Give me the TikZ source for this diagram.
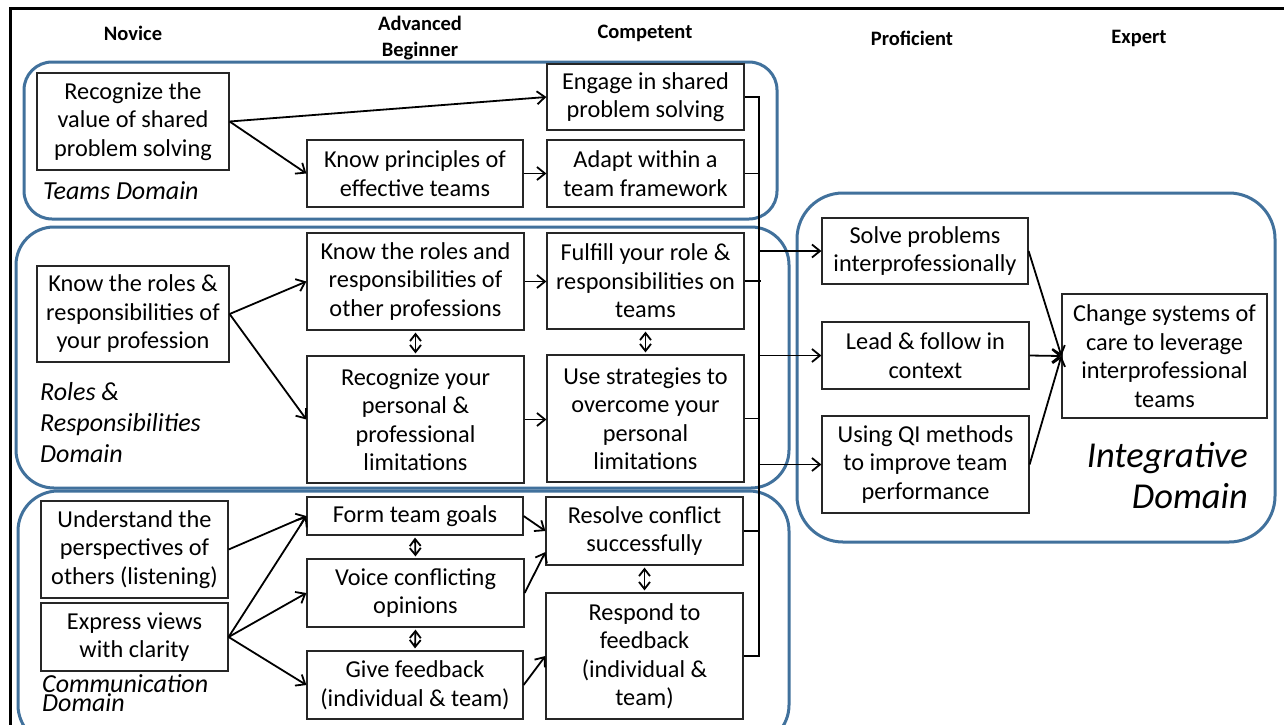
\documentclass[tikz,border=0pt]{standalone}
\usepackage{fontspec}
\setmainfont{Carlito}
\usetikzlibrary{arrows.meta,calc}
\definecolor{domblue}{RGB}{65,113,156}
\begin{document}
\begin{tikzpicture}[x=1pt,y=-1pt,
 box/.style={draw=black!85, line width=1.2pt, fill=white, align=center, inner sep=0pt, font=\fontsize{24.3}{28.5}\selectfont},
 dom/.style={draw=domblue, line width=3pt, rounded corners=#1},
 hdr/.style={font=\fontsize{20.5}{26}\selectfont\bfseries, align=center, inner sep=0pt},
 lbl/.style={font=\fontsize{26}{31}\selectfont\itshape, align=left, anchor=west, inner sep=0pt},
 arr/.style={draw=black, line width=1.8pt, -{Straight Barb[length=8pt,width=13pt]}},
 dbl/.style={draw=black, line width=1.8pt, {Straight Barb[length=7pt,width=11pt]}-{Straight Barb[length=7pt,width=11pt]}},
 bus/.style={draw=black, line width=1.8pt}
]
\useasboundingbox (0,0) rectangle (1284,724);
\clip (0,0) rectangle (1284,724);
\fill[white] (0,0) rectangle (1284,724);
% outer frame (top and left edges)
\draw[line width=3pt] (10.5,740) -- (10.5,8.5) -- (1300,8.5);

% headers
\node[hdr] (hN) at (133,33) {Novice};
\node[hdr] (hA) at (420,38) {Advanced\\Beginner};
\node[hdr] (hC) at (645,33) {Competent};
\node[hdr] (hP) at (912,38) {Proficient};
\node[hdr] (hE) at (1139,38) {Expert};

% domain frames
\draw[dom=28pt] (24,62) rectangle (777,219);
\draw[dom=38pt] (16,227) rectangle (789,488);
\draw[dom=40pt] (18,491) rectangle (789,745);
\draw[dom=46pt] (797,193) rectangle (1275,542);

% Teams domain
\node[box, minimum width=192pt, minimum height=97pt] (A1) at (133,121.5) {Recognize the\\value of shared\\problem solving};
\node[box, minimum width=216pt, minimum height=67pt] (A2) at (415,173.5) {Know principles of\\effective teams};
\node[box, minimum width=197pt, minimum height=66pt] (A3) at (645.5,97) {Engage in shared\\problem solving};
\node[box, minimum width=197pt, minimum height=67pt] (A4) at (645.5,173.5) {Adapt within a\\team framework};
\node[lbl] (LA) at (43,191) {Teams Domain};

% Roles domain
\node[box, minimum width=192pt, minimum height=96pt] (B1) at (133,314) {Know the roles \&\\responsibilities of\\your profession};
\node[box, minimum width=217pt, minimum height=97pt] (B2) at (415.5,281.5) {Know the roles and\\responsibilities of\\other professions};
\node[box, minimum width=217pt, minimum height=127pt] (B3) at (415.5,419.5) {Recognize your\\personal \&\\professional\\limitations};
\node[box, minimum width=197pt, minimum height=96pt] (B4) at (645.5,281) {Fulfill your role \&\\responsibilities on\\teams};
\node[box, minimum width=197pt, minimum height=127pt] (B5) at (645.5,418.5) {Use strategies to\\overcome your\\personal\\limitations};
\node[lbl] (LB) at (40,423) {Roles \&\\Responsibilities\\Domain};

% Communication domain
\node[box, minimum width=187pt, minimum height=97pt] (C1) at (134.5,549.5) {Understand the\\perspectives of\\others (listening)};
\node[box, minimum width=187pt, minimum height=68pt] (C2) at (134.5,637) {Express views\\with clarity};
\node[box, minimum width=216pt, minimum height=38pt] (C3) at (415,516) {Form team goals};
\node[box, minimum width=217pt, minimum height=68pt] (C4) at (415.5,593) {Voice conflicting\\opinions};
\node[box, minimum width=216pt, minimum height=68pt] (C5) at (415,685) {Give feedback\\(individual \& team)};
\node[box, minimum width=197pt, minimum height=68pt] (C6) at (644.5,531) {Resolve conflict\\successfully};
\node[box, minimum width=197pt, minimum height=126pt] (C7) at (644.5,656) {Respond to\\feedback\\(individual \&\\team)};
\node[lbl, font=\fontsize{26}{19.5}\selectfont\itshape] (LC) at (42,693) {Communication\\Domain};

% Integrative domain
\node[box, minimum width=206pt, minimum height=66pt] (D1) at (925,251) {Solve problems\\interprofessionally};
\node[box, minimum width=207pt, minimum height=67pt] (D2) at (925.5,355.5) {Lead \& follow in\\context};
\node[box, minimum width=207pt, minimum height=97pt] (D3) at (925.5,464.5) {Using QI methods\\to improve team\\performance};
\node[box, minimum width=205pt, minimum height=124pt] (D4) at (1164.5,356) {Change systems of\\care to leverage\\interprofessional\\teams};
\node[font=\fontsize{36.5}{41}\selectfont\itshape, align=right, anchor=east, inner sep=0pt] (LD) at (1248,476) {Integrative\\Domain};

% Teams arrows
\draw[arr] (A1.east) -- (A3.west);
\draw[arr] (A1.east) -- (A2.west);
\draw[arr] (A2.east) -- (A4.west);

% Roles arrows
\draw[arr] (B1.east) -- (B2.west);
\draw[arr] (B1.east) -- (B3.west);
\draw[arr] (B2.east) -- (B4.west |- B2.east);
\draw[arr] (B3.east) -- (B5.west |- B3.east);
\draw[dbl] ([yshift=-2pt]B2.south) -- ([yshift=2pt]B3.north);
\draw[dbl] ([yshift=-2pt]B4.south) -- ([yshift=2pt]B5.north);

% Communication arrows
\draw[arr] (C1.east) -- (C3.west);
\draw[arr] (C2.east) -- (C3.west);
\draw[arr] (C2.east) -- (C4.west);
\draw[arr] (C2.east) -- (C5.west);
\draw[arr] (C3.east) -- (C6.west);
\draw[arr] (C4.east) -- ([yshift=-21pt]C6.west);
\draw[arr] (C5.east) -- (C7.west);
\draw[dbl] ([yshift=-2pt]C3.south) -- ([yshift=2pt]C4.north);
\draw[dbl] ([yshift=-2pt]C4.south) -- ([yshift=2pt]C5.north);
\draw[dbl] ([yshift=-2pt]C6.south) -- ([yshift=2pt]C7.north);

% collecting bus
\coordinate (busT) at (759,97);
\draw[bus] (A3.east) -- (A3.east -| busT) -- (C7.east -| busT) -- (C7.east);
\draw[bus] (A4.east) -- (A4.east -| busT);
\draw[bus] (B4.east) -- ([xshift=2pt]B4.east -| busT);
\draw[bus] (B5.east) -- (B5.east -| busT);
\draw[bus] (C6.east) -- (C6.east -| busT);
\draw[arr] (D1.west -| busT) -- (D1.west);
\draw[arr] (D2.west -| busT) -- (D2.west);
\draw[arr] (D3.west -| busT) -- (D3.west);

% integrative arrows
\draw[arr] (D1.east) -- (D4.west);
\draw[arr] (D2.east) -- (D4.west);
\draw[arr] (D3.east) -- (D4.west);
\end{tikzpicture}
\end{document}
